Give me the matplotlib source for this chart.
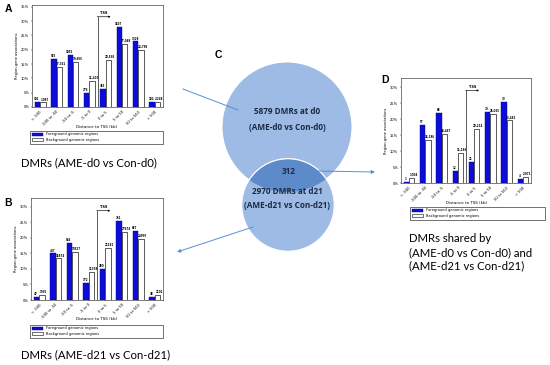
import numpy as np
import matplotlib
matplotlib.use("Agg")
import matplotlib.pyplot as plt
from matplotlib.patches import Circle, Patch
from matplotlib.ticker import MultipleLocator, FuncFormatter

# ---------------- data ----------------
categories = ["< -500", "-500 to -50", "-50 to -5", "-5 to 0",
              "0 to 5", "5 to 50", "50 to 500", "> 500"]

A_fg_pct = [1.7, 16.7, 18.3, 4.8, 6.3, 27.8, 22.9, 1.9]
A_bg_pct = [1.6, 14.0, 15.8, 9.2, 16.5, 22.1, 20.0, 1.9]
A_fg_n = [101, 965, 1052, 276, 365, 1607, 1328, 102]
A_bg_n = [1987, 17361, 19655, 11400, 20538, 27048, 24798, 2248]

B_fg_pct = [1.1, 15.0, 18.5, 5.6, 10.0, 25.5, 22.4, 1.1]
B_bg_pct = [1.5, 13.4, 15.5, 9.0, 16.8, 22.0, 19.8, 1.5]
B_fg_n = [47, 447, 546, 172, 280, 761, 657, 38]
B_bg_n = [1935, 16874, 19527, 11338, 21182, 27674, 24959, 2101]

D_fg_pct = [0.4, 18.2, 21.8, 3.9, 6.7, 22.3, 25.3, 1.25]
D_bg_pct = [1.6, 13.6, 15.5, 9.4, 16.9, 21.7, 19.6, 1.8]
D_fg_n = [1, 57, 68, 12, 21, 70, 79, 4]
D_bg_n = [1904, 16186, 18447, 11186, 20214, 26065, 23481, 2071]

venn_counts = {"d0": 5879, "d21": 2970, "shared": 312}

captions = {
    "A": ["DMRs (AME-d0 vs Con-d0)"],
    "B": ["DMRs (AME-d21 vs Con-d21)"],
    "D": ["DMRs shared by", "(AME-d0 vs Con-d0) and", "(AME-d21 vs Con-d21)"],
}
legend_labels = ["Foreground genomic regions", "Background genomic regions"]

# ---------------- figure ----------------
W, H = 550, 365
fig = plt.figure(figsize=(5.5, 3.65), dpi=100)
fig.patch.set_facecolor("white")

ov = fig.add_axes([0, 0, 1, 1], zorder=0)
ov.set_xlim(0, W)
ov.set_ylim(H, 0)
ov.axis("off")

FG = "#0d0ddb"
CAP_FONT = ["Lato", "DejaVu Sans"]
VENN_FONT = ["Open Sans", "DejaVu Sans"]


def frac(l, t, r, b):
    return [l / W, 1 - b / H, (r - l) / W, (b - t) / H]


def bar_panel(rect, fg, bg, fg_n, bg_n, ymax, tss_top, comma,
              xlabel_xy, legend_rect):
    ax = fig.add_axes(frac(*rect), zorder=2)
    x = np.arange(len(categories))
    w = 0.33
    ax.bar(x - w / 2, fg, w, color=FG, edgecolor="#00008a", linewidth=0.3)
    ax.bar(x + w / 2, bg, w, color="white", edgecolor="black", linewidth=0.45)
    ax.set_xlim(-0.5, 7.5)
    ax.set_ylim(0, ymax)
    ax.set_xticks(x)
    ax.set_xticklabels(categories, rotation=45, ha="right",
                       rotation_mode="anchor", fontsize=2.6)
    ax.yaxis.set_major_locator(MultipleLocator(5))
    ax.yaxis.set_major_formatter(FuncFormatter(lambda v, p: f"{v:.0f}%"))
    ax.tick_params(length=1, width=0.3, labelsize=2.6, pad=1)
    for s in ax.spines.values():
        s.set_linewidth(0.45)
        s.set_color("#333333")
    ax.set_ylabel("Region-gene associations", fontsize=2.6, labelpad=1.5)
    for xi, v, n in zip(x, fg, fg_n):
        ax.text(xi - w / 2 - 0.04, v + 0.3, str(n), ha="center", va="bottom",
                fontsize=1.9, fontweight="bold")
    for xi, v, n in zip(x, bg, bg_n):
        ax.text(xi + w / 2 + 0.1, v + 0.3, f"{n:,}" if comma else str(n),
                ha="center", va="bottom", fontsize=1.9, fontweight="bold")
    ax.plot([3.5, 3.5], [0, tss_top], color="black", lw=0.45)
    ax.annotate("", xy=(4.3, tss_top), xytext=(3.48, tss_top),
                arrowprops=dict(arrowstyle="-|>", lw=0.45, color="black",
                                mutation_scale=2.5, shrinkA=0, shrinkB=0))
    ax.text(3.9, tss_top + 0.6, "TSS", fontsize=2.6, ha="center",
            va="bottom", fontweight="bold")
    ov.text(xlabel_xy[0], xlabel_xy[1], "Distance to TSS (kb)",
            fontsize=2.9, ha="center", va="center")
    l, t, r, b = legend_rect
    handles = [Patch(facecolor=FG, edgecolor="#00008a", linewidth=0.3),
               Patch(facecolor="white", edgecolor="black", linewidth=0.4)]
    leg = fig.legend(handles, legend_labels, loc="upper left",
                     bbox_to_anchor=(l / W, 1 - t / H, (r - l) / W, 0.001),
                     mode="expand", fontsize=2.6, handlelength=3.2,
                     handleheight=0.9, borderpad=0.5, labelspacing=0.35,
                     fancybox=False, framealpha=1, edgecolor="#222222",
                     borderaxespad=0)
    leg.get_frame().set_linewidth(0.45)
    return ax


bar_panel((32, 5, 163, 107), A_fg_pct, A_bg_pct, A_fg_n, A_bg_n,
          35.6, 31.5, True, (97, 127), (30, 131, 163, 144))
bar_panel((31, 198, 163, 300), B_fg_pct, B_bg_pct, B_fg_n, B_bg_n,
          32.9, 28.8, False, (97, 319), (30, 325, 163, 338))
bar_panel((401, 78, 531, 183), D_fg_pct, D_bg_pct, D_fg_n, D_bg_n,
          32.9, 29.0, True, (467, 203), (410, 207, 545, 221))

# panel letters
for letter, (px, py) in {"A": (8, 9), "B": (8, 203), "C": (218, 55),
                         "D": (385, 80)}.items():
    ov.text(px, py, letter, fontsize=7.5, fontweight="bold", ha="center",
            va="center", family="Liberation Sans")

# captions
ov.text(21, 163, captions["A"][0], fontsize=8.2, va="center", ha="left",
        family=CAP_FONT)
ov.text(21, 355, captions["B"][0], fontsize=8.2, va="center", ha="left",
        family=CAP_FONT)
for i, line in enumerate(captions["D"]):
    ov.text(409, 239 + i * 13.5, line, fontsize=8.2, va="center", ha="left",
            family=CAP_FONT)

# ---------------- Venn (panel C) ----------------
k = 0.848
r_big = k * np.sqrt(venn_counts["d0"])
r_small = k * np.sqrt(venn_counts["d21"])
c_big = (287, 127)
c_small = (288, 205)
CIRC = "#9dbbe4"
big = Circle(c_big, r_big, facecolor=CIRC, edgecolor="white", lw=0.8,
             zorder=1)
small = Circle(c_small, r_small, facecolor=CIRC, edgecolor="white", lw=0.8,
               zorder=1.5)
ov.add_patch(big)
ov.add_patch(small)
clip = Circle(c_big, r_big, transform=ov.transData)
lens = Circle(c_small, r_small, facecolor="#5d8bc9", edgecolor="white",
              lw=0.8, zorder=1.6)
ov.add_patch(lens)
lens.set_clip_path(clip)

TXT = "#1b2a44"
vkw = dict(ha="center", va="center", fontsize=5.9, fontweight="bold",
           color=TXT, family=VENN_FONT, zorder=3)
ov.text(287, 112, f"{venn_counts['d0']} DMRs at d0", **vkw)
ov.text(287, 127, "(AME-d0 vs Con-d0)", **vkw)
ov.text(289, 172, str(venn_counts["shared"]), **vkw)
ov.text(287, 191, f"{venn_counts['d21']} DMRs at d21", **vkw)
ov.text(287, 206, "(AME-d21 vs Con-d21)", **vkw)

LINE = "#5b8fd2"
ov.plot([183, 238], [89, 110], color=LINE, lw=0.7, zorder=2)
ov.annotate("", xy=(177, 252), xytext=(253, 227),
            arrowprops=dict(arrowstyle="-|>", color=LINE, lw=0.7,
                            mutation_scale=5, shrinkA=0, shrinkB=0), zorder=2)
ov.annotate("", xy=(375, 172), xytext=(317, 171),
            arrowprops=dict(arrowstyle="-|>", color=LINE, lw=0.7,
                            mutation_scale=5, shrinkA=0, shrinkB=0), zorder=2)

fig.savefig("out.png", dpi=100)
